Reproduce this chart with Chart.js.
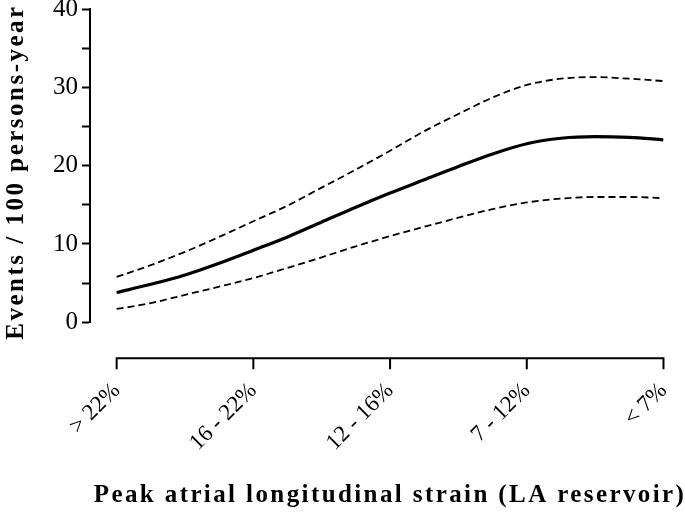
<!DOCTYPE html>
<html>
<head>
<meta charset="utf-8">
<script src="https://cdn.jsdelivr.net/npm/chart.js@4.4.1/dist/chart.umd.min.js"></script>
<style>
  body { margin: 0; background: #fff; }
</style>
</head>
<body>
<canvas id="riskChart" width="685" height="515"></canvas>
<script>
// strain categories along the x axis
const categories = ["> 22%", "16 - 22%", "12 - 16%", "7 - 12%", "< 7%"];
// positions along the category axis where the curves were read
const positions = [0, 0.25, 0.5, 0.75, 1, 1.25, 1.5, 1.75, 2, 2.25, 2.5, 2.75, 3, 3.25, 3.5, 3.75, 4];
// events / 100 persons-year
const estimate = [3.8, 4.85, 6.05, 7.55, 9.2, 10.9, 12.8, 14.7, 16.5, 18.2, 19.9, 21.5, 22.8, 23.5, 23.7, 23.6, 23.3];
const upperCI = [5.8, 7.3, 9.0, 10.9, 12.9, 14.9, 17.2, 19.5, 21.9, 24.4, 26.6, 28.7, 30.3, 31.1, 31.3, 31.1, 30.8];
const lowerCI = [1.7, 2.45, 3.5, 4.55, 5.65, 6.95, 8.3, 9.7, 11.0, 12.2, 13.35, 14.45, 15.3, 15.8, 16.0, 16.0, 15.85];
const yMajorTicks = [0, 10, 20, 30, 40];
const xTitle = "Peak atrial longitudinal strain (LA reservoir)";
const yTitle = "Events / 100 persons-year";

const toPoints = (vals) => vals.map((v, i) => ({ x: positions[i], y: v }));

// x axis is drawn detached below the plot, prism style
const offsetXAxis = {
  id: "offsetXAxis",
  afterDraw(chart) {
    const ctx = chart.ctx;
    const x = chart.scales.x;
    const y0 = chart.chartArea.bottom + 36;
    ctx.save();
    ctx.strokeStyle = "#000";
    ctx.lineWidth = 2;
    ctx.lineCap = "square";
    ctx.beginPath();
    ctx.moveTo(x.getPixelForValue(0), y0);
    ctx.lineTo(x.getPixelForValue(categories.length - 1), y0);
    categories.forEach((c, i) => {
      const px = x.getPixelForValue(i);
      ctx.moveTo(px, y0);
      ctx.lineTo(px, y0 + 10);
    });
    ctx.stroke();
    ctx.restore();
  },
};

// axis titles, letter spaced like the original
const axisTitles = {
  id: "axisTitles",
  afterDraw(chart) {
    const ctx = chart.ctx;
    ctx.save();
    ctx.fillStyle = "#000";
    ctx.font = 'bold 25px "Liberation Serif"';
    ctx.letterSpacing = "2.4px";
    ctx.textAlign = "center";
    ctx.textBaseline = "alphabetic";
    ctx.fillText(xTitle, 390, 502);
    ctx.letterSpacing = "2.5px";
    ctx.translate(23, 172);
    ctx.rotate(-Math.PI / 2);
    ctx.fillText(yTitle, 0, 0);
    ctx.restore();
  },
};

const ctx = document.getElementById("riskChart");
const riskChart = new Chart(ctx, {
  type: "line",
  data: {
    datasets: [
      {
        label: "Upper 95% CI",
        data: toPoints(upperCI),
        borderColor: "#000",
        borderWidth: 1.8,
        borderDash: [7, 4],
        pointRadius: 0,
        cubicInterpolationMode: "monotone",
        fill: false,
      },
      {
        label: "Estimate",
        data: toPoints(estimate),
        borderColor: "#000",
        borderWidth: 3.2,
        pointRadius: 0,
        cubicInterpolationMode: "monotone",
        fill: false,
      },
      {
        label: "Lower 95% CI",
        data: toPoints(lowerCI),
        borderColor: "#000",
        borderWidth: 1.8,
        borderDash: [7, 4],
        pointRadius: 0,
        cubicInterpolationMode: "monotone",
        fill: false,
      },
    ],
  },
  options: {
    responsive: false,
    animation: false,
    devicePixelRatio: 1,
    layout: { padding: { left: 0, right: 21, top: 8.3, bottom: 0 } },
    plugins: {
      legend: { display: false },
      tooltip: { enabled: false },
    },
    scales: {
      x: {
        type: "linear",
        min: -0.195,
        max: 4,
        afterBuildTicks: (scale) => {
          scale.ticks = categories.map((c, i) => ({ value: i }));
        },
        afterFit: (scale) => {
          scale.height = 192.7;
        },
        ticks: {
          autoSkip: false,
          maxRotation: 45,
          minRotation: 45,
          padding: 2,
          color: "#000",
          font: { family: "Liberation Serif", size: 23 },
          callback: (v) => categories[v],
        },
        grid: {
          drawOnChartArea: false,
          tickLength: 53,
          color: "rgba(0,0,0,0)",
        },
        border: { display: false },
      },
      y: {
        min: 0,
        max: 40,
        afterBuildTicks: (scale) => {
          const t = [];
          for (let v = 0; v <= 40; v += 5) t.push({ value: v });
          scale.ticks = t;
        },
        afterFit: (scale) => {
          scale.width = 90;
        },
        ticks: {
          padding: 4,
          color: "#000",
          font: { family: "Liberation Serif", size: 25, lineHeight: 0.4 },
          callback: (v) => (yMajorTicks.includes(v) ? v : ""),
        },
        grid: {
          drawOnChartArea: false,
          tickLength: 8,
          tickWidth: 2,
          color: "#000",
        },
        border: { color: "#000", width: 2 },
      },
    },
  },
  plugins: [offsetXAxis, axisTitles],
});
</script>
</body>
</html>
